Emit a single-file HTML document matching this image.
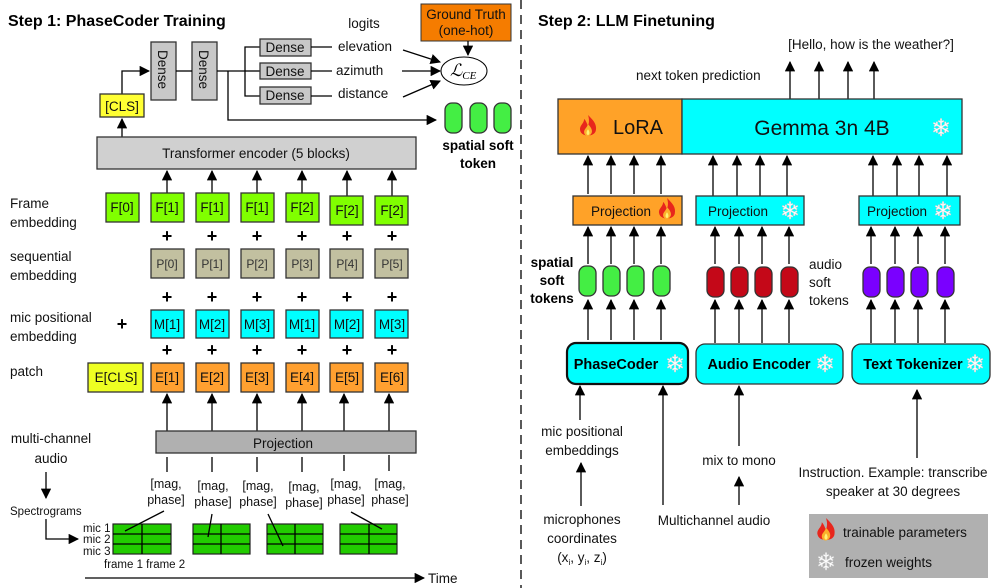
<!DOCTYPE html>
<html><head><meta charset="utf-8"><style>
html,body{margin:0;padding:0;background:#fff}
svg{display:block;font-family:"Liberation Sans",sans-serif}
</style></head><body>
<svg width="997" height="588" viewBox="0 0 997 588" xmlns="http://www.w3.org/2000/svg">
<defs>
<marker id="ah" viewBox="0 0 10 10" refX="9" refY="5" markerWidth="8" markerHeight="8" orient="auto-start-reverse"><path d="M0,0 L10,5 L0,10 z" fill="#000"/></marker>
<g id="flame"><path d="M0,-10 C4,-6 7,-3 6,2 C5,7 -5,7 -6,2 C-7,-2 -3,-3 -3,-7 C-1,-5 -1,-3 0,-2 C1,-4 1,-7 0,-10z" fill="#e8261c"/><path d="M0,-3 C3,0 4,3 2,5 C0,7 -3,6 -3,3 C-3,1 -1,0 0,-3z" fill="#fbb02a"/><path d="M0,1 C1.5,3 1.5,5 0,5.5 C-1.5,5 -1.5,3 0,1z" fill="#fff176"/></g>
</defs>
<style>
.t{font-size:13.5px;fill:#111}
.b{font-weight:bold}
line,polyline{stroke:#000;stroke-width:1.3;fill:none}
.bx{stroke:#333;stroke-width:1.3}
.sf{fill:#fff;font-size:24px;stroke:#ccc;stroke-width:0.4}
</style>

<!-- ============ LEFT ============ -->
<text x="8" y="26" class="b" font-size="16" fill="#000">Step 1: PhaseCoder Training</text>

<rect x="151" y="42" width="25" height="58" fill="#c8c8c8" class="bx"/>
<text transform="translate(158,50) rotate(90)" class="t">Dense</text>
<rect x="192" y="42" width="25" height="58" fill="#c8c8c8" class="bx"/>
<text transform="translate(199,50) rotate(90)" class="t">Dense</text>
<line x1="176" y1="71" x2="192" y2="71"/>
<polyline points="122,94 122,71 149,71" marker-end="url(#ah)"/>
<rect x="100" y="94" width="44" height="23" fill="#ffff33" class="bx"/>
<text x="122" y="111" text-anchor="middle" class="t">[CLS]</text>
<line x1="122" y1="137" x2="122" y2="119" marker-end="url(#ah)"/>
<line x1="217" y1="71" x2="245" y2="71"/>
<polyline points="260,47 245,47 245,96 260,96"/>
<line x1="245" y1="71" x2="260" y2="71"/>
<rect x="260" y="39" width="51" height="17" fill="#c8c8c8" class="bx"/><text x="285" y="52" text-anchor="middle" class="t">Dense</text>
<rect x="260" y="63" width="51" height="16" fill="#c8c8c8" class="bx"/><text x="285" y="76" text-anchor="middle" class="t">Dense</text>
<rect x="260" y="87" width="51" height="17" fill="#c8c8c8" class="bx"/><text x="285" y="100" text-anchor="middle" class="t">Dense</text>
<line x1="311" y1="47" x2="332" y2="47"/><line x1="311" y1="71" x2="332" y2="71"/><line x1="311" y1="96" x2="332" y2="96"/>
<text x="364" y="28" text-anchor="middle" class="t">logits</text>
<text x="338" y="51" class="t">elevation</text>
<text x="336" y="75" class="t">azimuth</text>
<text x="338" y="98" class="t">distance</text>
<line x1="403" y1="50" x2="440" y2="62" marker-end="url(#ah)"/>
<line x1="402" y1="71" x2="440" y2="71" marker-end="url(#ah)"/>
<line x1="403" y1="97" x2="440" y2="81" marker-end="url(#ah)"/>
<ellipse cx="464" cy="71" rx="23" ry="14" fill="#fff" stroke="#000" stroke-width="1"/>
<text x="450" y="76" font-family="Liberation Serif,serif" font-style="italic" font-size="17">ℒ<tspan font-size="11" dy="3">CE</tspan></text>
<rect x="421" y="4" width="90" height="37" fill="#f57c00" stroke="#333"/>
<text x="466" y="19" text-anchor="middle" class="t">Ground Truth</text>
<text x="466" y="35" text-anchor="middle" class="t">(one-hot)</text>
<line x1="468" y1="41" x2="468" y2="55" marker-end="url(#ah)"/>
<polyline points="228,71 228,120 436,120" marker-end="url(#ah)"/>
<rect x="445" y="103" width="17" height="30" rx="7" fill="#44ee44" stroke="#333" stroke-width="1.3"/>
<rect x="470" y="103" width="17" height="30" rx="7" fill="#44ee44" stroke="#333" stroke-width="1.3"/>
<rect x="494" y="103" width="17" height="30" rx="7" fill="#44ee44" stroke="#333" stroke-width="1.3"/>
<text x="478" y="150" text-anchor="middle" class="b" font-size="13.5">spatial soft</text>
<text x="478" y="168" text-anchor="middle" class="b" font-size="13.5">token</text>

<rect x="97" y="137" width="319" height="32" fill="#d0d0d0" class="bx"/>
<text x="256" y="158" text-anchor="middle" class="t" font-size="14.5">Transformer encoder (5 blocks)</text>

<text x="10" y="208" class="t">Frame</text><text x="10" y="227" class="t">embedding</text>
<text x="10" y="261" class="t">sequential</text><text x="10" y="280" class="t">embedding</text>
<text x="10" y="322" class="t">mic positional</text><text x="10" y="341" class="t">embedding</text>
<text x="10" y="376" class="t">patch</text>
<text x="122" y="330" text-anchor="middle" font-size="18" class="b">+</text>

<rect x="106" y="193" width="33" height="29" fill="#80ff00" class="bx"/><text x="122" y="212" text-anchor="middle" class="t">F[0]</text>
<line x1="167" y1="193" x2="167" y2="171" marker-end="url(#ah)"/><line x1="212" y1="193" x2="212" y2="171" marker-end="url(#ah)"/><line x1="257" y1="193" x2="257" y2="171" marker-end="url(#ah)"/><line x1="302" y1="193" x2="302" y2="171" marker-end="url(#ah)"/><line x1="347" y1="196" x2="347" y2="171" marker-end="url(#ah)"/><line x1="392" y1="196" x2="392" y2="171" marker-end="url(#ah)"/>
<rect x="151" y="193" width="33" height="29" fill="#80ff00" class="bx"/><text x="167" y="212" text-anchor="middle" class="t">F[1]</text>
<rect x="196" y="193" width="33" height="29" fill="#80ff00" class="bx"/><text x="212" y="212" text-anchor="middle" class="t">F[1]</text>
<rect x="241" y="193" width="33" height="29" fill="#80ff00" class="bx"/><text x="257" y="212" text-anchor="middle" class="t">F[1]</text>
<rect x="286" y="193" width="33" height="29" fill="#80ff00" class="bx"/><text x="302" y="212" text-anchor="middle" class="t">F[2]</text>
<rect x="330" y="196" width="33" height="29" fill="#80ff00" class="bx"/><text x="347" y="215" text-anchor="middle" class="t">F[2]</text>
<rect x="375" y="196" width="33" height="29" fill="#80ff00" class="bx"/><text x="392" y="215" text-anchor="middle" class="t">F[2]</text>

<g font-size="18" font-weight="bold" text-anchor="middle">
<text x="167" y="242">+</text><text x="212" y="242">+</text><text x="257" y="242">+</text><text x="302" y="242">+</text><text x="347" y="242">+</text><text x="392" y="242">+</text>
<text x="167" y="303">+</text><text x="212" y="303">+</text><text x="257" y="303">+</text><text x="302" y="303">+</text><text x="347" y="303">+</text><text x="392" y="303">+</text>
<text x="167" y="356">+</text><text x="212" y="356">+</text><text x="257" y="356">+</text><text x="302" y="356">+</text><text x="347" y="356">+</text><text x="392" y="356">+</text>
</g>

<g font-size="12" fill="#333" text-anchor="middle">
<rect x="151" y="249" width="33" height="29" fill="#c2c0a0" class="bx"/><text x="167" y="268">P[0]</text>
<rect x="196" y="249" width="33" height="29" fill="#c2c0a0" class="bx"/><text x="212" y="268">P[1]</text>
<rect x="241" y="249" width="33" height="29" fill="#c2c0a0" class="bx"/><text x="257" y="268">P[2]</text>
<rect x="286" y="249" width="33" height="29" fill="#c2c0a0" class="bx"/><text x="302" y="268">P[3]</text>
<rect x="330" y="249" width="33" height="29" fill="#c2c0a0" class="bx"/><text x="347" y="268">P[4]</text>
<rect x="375" y="249" width="33" height="29" fill="#c2c0a0" class="bx"/><text x="392" y="268">P[5]</text>
</g>
<g class="t" text-anchor="middle">
<rect x="151" y="310" width="33" height="28" fill="#00ffff" class="bx"/><text x="167" y="329">M[1]</text>
<rect x="196" y="310" width="33" height="28" fill="#00ffff" class="bx"/><text x="212" y="329">M[2]</text>
<rect x="241" y="310" width="33" height="28" fill="#00ffff" class="bx"/><text x="257" y="329">M[3]</text>
<rect x="286" y="310" width="33" height="28" fill="#00ffff" class="bx"/><text x="302" y="329">M[1]</text>
<rect x="330" y="310" width="33" height="28" fill="#00ffff" class="bx"/><text x="347" y="329">M[2]</text>
<rect x="375" y="310" width="33" height="28" fill="#00ffff" class="bx"/><text x="392" y="329">M[3]</text>
<rect x="88" y="363" width="55" height="29" fill="#eeff22" class="bx"/><text x="116" y="382">E[CLS]</text>
<rect x="151" y="363" width="33" height="29" fill="#ffa030" class="bx"/><text x="167" y="382">E[1]</text>
<rect x="196" y="363" width="33" height="29" fill="#ffa030" class="bx"/><text x="212" y="382">E[2]</text>
<rect x="241" y="363" width="33" height="29" fill="#ffa030" class="bx"/><text x="257" y="382">E[3]</text>
<rect x="286" y="363" width="33" height="29" fill="#ffa030" class="bx"/><text x="302" y="382">E[4]</text>
<rect x="330" y="363" width="33" height="29" fill="#ffa030" class="bx"/><text x="347" y="382">E[5]</text>
<rect x="375" y="363" width="33" height="29" fill="#ffa030" class="bx"/><text x="392" y="382">E[6]</text>
</g>
<line x1="167" y1="431" x2="167" y2="394" marker-end="url(#ah)"/><line x1="212" y1="431" x2="212" y2="394" marker-end="url(#ah)"/><line x1="257" y1="431" x2="257" y2="394" marker-end="url(#ah)"/><line x1="302" y1="431" x2="302" y2="394" marker-end="url(#ah)"/><line x1="344" y1="431" x2="344" y2="394" marker-end="url(#ah)"/><line x1="389" y1="431" x2="389" y2="394" marker-end="url(#ah)"/>

<rect x="156" y="431" width="260" height="22" fill="#b0b0b0" class="bx"/>
<text x="283" y="448" text-anchor="middle" class="t" font-size="14.5">Projection</text>
<line x1="167" y1="457" x2="167" y2="472"/><line x1="212" y1="457" x2="212" y2="472"/><line x1="257" y1="457" x2="257" y2="472"/><line x1="302" y1="457" x2="302" y2="472"/><line x1="344" y1="455" x2="344" y2="471"/><line x1="389" y1="455" x2="389" y2="471"/>
<g font-size="12.5" fill="#111" text-anchor="middle">
<text x="166" y="488">[mag,</text><text x="166" y="504">phase]</text>
<text x="213" y="490">[mag,</text><text x="213" y="506">phase]</text>
<text x="258" y="490">[mag,</text><text x="258" y="506">phase]</text>
<text x="304" y="491">[mag,</text><text x="304" y="507">phase]</text>
<text x="346" y="488">[mag,</text><text x="346" y="504">phase]</text>
<text x="390" y="488">[mag,</text><text x="390" y="504">phase]</text>
</g>
<text x="51" y="443" text-anchor="middle" class="t">multi-channel</text>
<text x="51" y="463" text-anchor="middle" class="t">audio</text>
<line x1="46" y1="472" x2="46" y2="498" marker-end="url(#ah)"/>
<text x="10" y="515" font-size="11.5" fill="#111">Spectrograms</text>
<polyline points="46,519 46,539 78,539" marker-end="url(#ah)"/>
<g font-size="11.5" fill="#111">
<text x="83" y="532">mic 1</text><text x="83" y="543">mic 2</text><text x="83" y="555">mic 3</text>
<text x="104" y="568">frame 1 frame 2</text>
</g>
<g fill="#22cc00" stroke="#222" stroke-width="1.2">
<rect x="113" y="524" width="58" height="30"/><rect x="193" y="524" width="57" height="30"/><rect x="267" y="524" width="56" height="30"/><rect x="340" y="524" width="57" height="30"/>
</g>
<g stroke="#222" stroke-width="1">
<line x1="113" y1="534" x2="171" y2="534"/><line x1="113" y1="544" x2="171" y2="544"/><line x1="142" y1="524" x2="142" y2="554"/>
<line x1="193" y1="534" x2="250" y2="534"/><line x1="193" y1="544" x2="250" y2="544"/><line x1="221" y1="524" x2="221" y2="554"/>
<line x1="267" y1="534" x2="323" y2="534"/><line x1="267" y1="544" x2="323" y2="544"/><line x1="295" y1="524" x2="295" y2="554"/>
<line x1="340" y1="534" x2="397" y2="534"/><line x1="340" y1="544" x2="397" y2="544"/><line x1="369" y1="524" x2="369" y2="554"/>
<line x1="164" y1="511" x2="125" y2="531" stroke-width="1.2"/><line x1="212" y1="514" x2="208" y2="537" stroke-width="1.2"/><line x1="268" y1="514" x2="283" y2="546" stroke-width="1.2"/><line x1="351" y1="512" x2="382" y2="529" stroke-width="1.2"/>
</g>
<line x1="85" y1="578" x2="424" y2="578" marker-end="url(#ah)"/>
<text x="428" y="583" class="t" font-size="14.5">Time</text>

<line x1="521" y1="0" x2="521" y2="588" stroke="#000" stroke-width="2" stroke-dasharray="9,6"/>

<!-- ============ RIGHT ============ -->
<text x="538" y="26" class="b" font-size="16" fill="#000">Step 2: LLM Finetuning</text>
<text x="871" y="49" text-anchor="middle" class="t">[Hello, how is the weather?]</text>
<text x="636" y="80" class="t">next token prediction</text>
<line x1="790" y1="99" x2="790" y2="62" marker-end="url(#ah)"/><line x1="819" y1="99" x2="819" y2="62" marker-end="url(#ah)"/><line x1="848" y1="99" x2="848" y2="62" marker-end="url(#ah)"/><line x1="874" y1="99" x2="874" y2="62" marker-end="url(#ah)"/>
<rect x="558" y="99" width="124" height="55" fill="#ffa228" class="bx"/>
<rect x="682" y="99" width="280" height="55" fill="#00ffff" class="bx"/>
<use href="#flame" transform="translate(588,128) scale(1.3)"/>
<text x="638" y="134" text-anchor="middle" font-size="20" fill="#111">LoRA</text>
<text x="822" y="135" text-anchor="middle" font-size="21" fill="#111">Gemma 3n 4B</text>
<text x="941" y="136" text-anchor="middle" class="sf" font-size="28">❄</text>

<g>
<line x1="588" y1="194" x2="588" y2="156" marker-end="url(#ah)"/><line x1="611" y1="194" x2="611" y2="156" marker-end="url(#ah)"/><line x1="634" y1="194" x2="634" y2="156" marker-end="url(#ah)"/><line x1="661" y1="194" x2="661" y2="156" marker-end="url(#ah)"/>
<line x1="713" y1="196" x2="713" y2="156" marker-end="url(#ah)"/><line x1="737" y1="196" x2="737" y2="156" marker-end="url(#ah)"/><line x1="760" y1="196" x2="760" y2="156" marker-end="url(#ah)"/><line x1="787" y1="196" x2="787" y2="156" marker-end="url(#ah)"/>
<line x1="873" y1="196" x2="873" y2="156" marker-end="url(#ah)"/><line x1="897" y1="196" x2="897" y2="156" marker-end="url(#ah)"/><line x1="919" y1="196" x2="919" y2="156" marker-end="url(#ah)"/><line x1="947" y1="196" x2="947" y2="156" marker-end="url(#ah)"/>
</g>
<rect x="573" y="196" width="109" height="29" fill="#ffa228" class="bx"/>
<text x="621" y="216" text-anchor="middle" class="t" font-size="14">Projection</text>
<use href="#flame" transform="translate(667,211) scale(1.3)"/>
<rect x="696" y="196" width="108" height="29" fill="#00ffff" class="bx"/>
<text x="738" y="216" text-anchor="middle" class="t" font-size="14">Projection</text>
<text x="790" y="219" text-anchor="middle" class="sf">❄</text>
<rect x="859" y="196" width="101" height="29" fill="#00ffff" class="bx"/>
<text x="897" y="216" text-anchor="middle" class="t" font-size="14">Projection</text>
<text x="943" y="219" text-anchor="middle" class="sf">❄</text>

<g>
<line x1="588" y1="264" x2="588" y2="227" marker-end="url(#ah)"/><line x1="611" y1="264" x2="611" y2="227" marker-end="url(#ah)"/><line x1="634" y1="264" x2="634" y2="227" marker-end="url(#ah)"/><line x1="661" y1="264" x2="661" y2="227" marker-end="url(#ah)"/>
<line x1="715" y1="264" x2="715" y2="227" marker-end="url(#ah)"/><line x1="739" y1="264" x2="739" y2="227" marker-end="url(#ah)"/><line x1="762" y1="264" x2="762" y2="227" marker-end="url(#ah)"/><line x1="789" y1="264" x2="789" y2="227" marker-end="url(#ah)"/>
<line x1="871" y1="264" x2="871" y2="227" marker-end="url(#ah)"/><line x1="895" y1="264" x2="895" y2="227" marker-end="url(#ah)"/><line x1="918" y1="264" x2="918" y2="227" marker-end="url(#ah)"/><line x1="945" y1="264" x2="945" y2="227" marker-end="url(#ah)"/>
</g>
<g stroke="#333" stroke-width="1.3">
<rect x="579" y="266" width="17" height="30" rx="7" fill="#44ee44"/><rect x="603" y="266" width="17" height="30" rx="7" fill="#44ee44"/><rect x="627" y="266" width="17" height="30" rx="7" fill="#44ee44"/><rect x="653" y="266" width="17" height="30" rx="7" fill="#44ee44"/>
<rect x="707" y="267" width="17" height="30" rx="7" fill="#c40818"/><rect x="731" y="267" width="17" height="30" rx="7" fill="#c40818"/><rect x="755" y="267" width="17" height="30" rx="7" fill="#c40818"/><rect x="781" y="267" width="17" height="30" rx="7" fill="#c40818"/>
<rect x="863" y="267" width="17" height="30" rx="7" fill="#7a00ff"/><rect x="887" y="267" width="17" height="30" rx="7" fill="#7a00ff"/><rect x="911" y="267" width="17" height="30" rx="7" fill="#7a00ff"/><rect x="937" y="267" width="17" height="30" rx="7" fill="#7a00ff"/>
</g>
<g class="b" font-size="13.5" text-anchor="middle">
<text x="552" y="267">spatial</text><text x="552" y="285">soft</text><text x="552" y="303">tokens</text>
</g>
<text x="809" y="269" class="t">audio</text><text x="809" y="287" class="t">soft</text><text x="809" y="305" class="t">tokens</text>

<g>
<line x1="588" y1="340" x2="588" y2="300" marker-end="url(#ah)"/><line x1="611" y1="340" x2="611" y2="300" marker-end="url(#ah)"/><line x1="634" y1="340" x2="634" y2="300" marker-end="url(#ah)"/><line x1="661" y1="340" x2="661" y2="300" marker-end="url(#ah)"/>
<line x1="715" y1="343" x2="715" y2="300" marker-end="url(#ah)"/><line x1="739" y1="343" x2="739" y2="300" marker-end="url(#ah)"/><line x1="762" y1="343" x2="762" y2="300" marker-end="url(#ah)"/><line x1="789" y1="343" x2="789" y2="300" marker-end="url(#ah)"/>
<line x1="871" y1="343" x2="871" y2="300" marker-end="url(#ah)"/><line x1="895" y1="343" x2="895" y2="300" marker-end="url(#ah)"/><line x1="918" y1="343" x2="918" y2="300" marker-end="url(#ah)"/><line x1="945" y1="343" x2="945" y2="300" marker-end="url(#ah)"/>
</g>
<rect x="567" y="343" width="121" height="41" rx="9" fill="#00ffff" stroke="#111" stroke-width="2.2"/>
<text x="616" y="369" text-anchor="middle" class="b" font-size="14.5">PhaseCoder</text>
<text x="675" y="372" text-anchor="middle" class="sf">❄</text>
<rect x="696" y="344" width="147" height="40" rx="9" fill="#00ffff" stroke="#333" stroke-width="1.3"/>
<text x="759" y="369" text-anchor="middle" class="b" font-size="14.5">Audio Encoder</text>
<text x="825" y="372" text-anchor="middle" class="sf">❄</text>
<rect x="852" y="344" width="138" height="40" rx="9" fill="#00ffff" stroke="#333" stroke-width="1.3"/>
<text x="913" y="369" text-anchor="middle" class="b" font-size="14.5">Text Tokenizer</text>
<text x="975" y="372" text-anchor="middle" class="sf">❄</text>

<line x1="580" y1="420" x2="580" y2="386" marker-end="url(#ah)"/>
<text x="582" y="436" text-anchor="middle" class="t">mic positional</text>
<text x="582" y="455" text-anchor="middle" class="t">embeddings</text>
<line x1="581" y1="506" x2="581" y2="463" marker-end="url(#ah)"/>
<text x="582" y="524" text-anchor="middle" class="t">microphones</text>
<text x="582" y="543" text-anchor="middle" class="t">coordinates</text>
<text x="582" y="562" text-anchor="middle" class="t">(x<tspan font-size="8" dy="3">i</tspan><tspan dy="-3">, y</tspan><tspan font-size="8" dy="3">i</tspan><tspan dy="-3">, z</tspan><tspan font-size="8" dy="3">i</tspan><tspan dy="-3">)</tspan></text>
<line x1="663" y1="505" x2="663" y2="386" marker-end="url(#ah)"/>
<text x="714" y="525" text-anchor="middle" class="t">Multichannel audio</text>
<line x1="739" y1="446" x2="739" y2="386" marker-end="url(#ah)"/>
<text x="739" y="465" text-anchor="middle" class="t">mix to mono</text>
<line x1="739" y1="505" x2="739" y2="477" marker-end="url(#ah)"/>
<line x1="917" y1="458" x2="917" y2="390" marker-end="url(#ah)"/>
<text x="893" y="477" text-anchor="middle" class="t">Instruction. Example: transcribe</text>
<text x="893" y="496" text-anchor="middle" class="t">speaker at 30 degrees</text>

<rect x="809" y="514" width="179" height="64" fill="#b0b0b0"/>
<use href="#flame" transform="translate(826,532) scale(1.4)"/>
<text x="843" y="537" class="t">trainable parameters</text>
<text x="826" y="570" text-anchor="middle" class="sf">❄</text>
<text x="845" y="567" class="t">frozen weights</text>
</svg>
</body></html>
